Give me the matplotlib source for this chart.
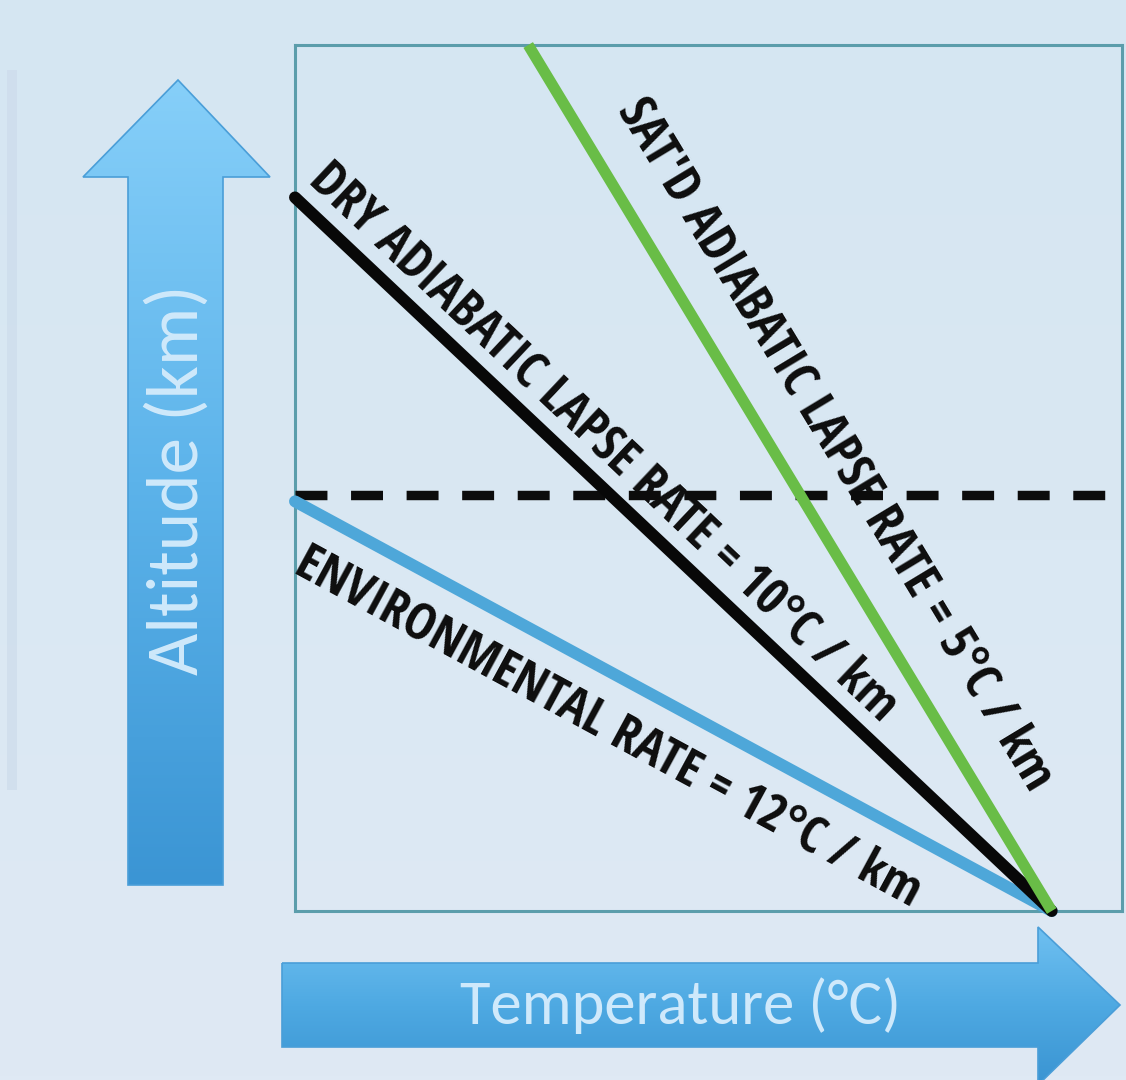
import numpy as np
import matplotlib
matplotlib.use("Agg")
import matplotlib.pyplot as plt
from matplotlib.patches import Polygon, Rectangle
from matplotlib.colors import LinearSegmentedColormap

plt.rcParams["lines.scale_dashes"] = False

# ---- data (schematic units: temperature 0-100 across, altitude 0-100 up) ----
surface_temp = 91.5          # where all three profiles meet at ground level
x_limits = [0, 100]
y_limits = [0, 100]

env_temp = [0.0, surface_temp]
env_alt = [47.3, 0.0]

dry_temp = [0.0, surface_temp]
dry_alt = [82.4, 0.0]

sat_temp = [28.2, surface_temp]
sat_alt = [100.0, 0.0]

level_alt = 48.0             # dashed reference level

labels = {
    "dry": "DRY ADIABATIC LAPSE RATE = 10°C / km",
    "sat": "SAT'D ADIABATIC LAPSE RATE = 5°C / km",
    "env": "ENVIRONMENTAL RATE = 12°C / km",
}
x_title = "Temperature (°C)"
y_title = "Altitude (km)"

W, H = 1126, 1080
fig = plt.figure(figsize=(W / 100, H / 100), dpi=100)
renderer = fig.canvas.get_renderer()

# ---- background layer in pixel units ----
bg = fig.add_axes([0, 0, 1, 1])
bg.set_xlim(0, W)
bg.set_ylim(H, 0)
bg.axis("off")
bg_cmap = LinearSegmentedColormap.from_list("bg", ["#d5e6f2", "#dae8f3", "#dfe9f4"])
bg.imshow(np.linspace(0, 1, 256)[:, None], cmap=bg_cmap, aspect="auto",
          extent=[0, W, H, 0], zorder=0)
bg.add_patch(Rectangle((7, 70), 10, 720, facecolor="#cddceb", edgecolor="none",
                       alpha=0.7, zorder=1))


def gradient_polygon(ax, verts, colors, edge="#4a9ed8"):
    poly = Polygon(verts, closed=True, facecolor="none", edgecolor=edge,
                   linewidth=1.2, zorder=3)
    ax.add_patch(poly)
    xs = [v[0] for v in verts]
    ys = [v[1] for v in verts]
    cmap = LinearSegmentedColormap.from_list("g", colors)
    grad = np.linspace(0, 1, 256)[:, None]
    im = ax.imshow(grad, cmap=cmap, aspect="auto",
                   extent=[min(xs), max(xs), max(ys), min(ys)], zorder=2)
    im.set_clip_path(poly)
    return poly


# up arrow (altitude)
up_arrow = [(128, 885), (128, 177), (83, 177), (178, 80), (270, 177),
            (223, 177), (223, 885)]
gradient_polygon(bg, up_arrow, ["#86cff9", "#5cb3ea", "#3b95d4"])

# right arrow (temperature)
right_arrow = [(282, 963), (1038, 963), (1038, 927), (1120, 1005),
               (1038, 1085), (1038, 1047), (282, 1047)]
gradient_polygon(bg, right_arrow, ["#6fc0f1", "#4ea9e2", "#3a94d2"])

bg.set_xlim(0, W)
bg.set_ylim(H, 0)


def fit_size(text, target_px, **kw):
    t = fig.text(0, 0, text, fontsize=10, **kw)
    w = t.get_window_extent(renderer).width
    t.remove()
    return 10 * target_px / w


arrow_font = dict(family=["Carlito", "Lato", "DejaVu Sans"], fontweight="normal")
fs_y = fit_size(y_title, 392, **arrow_font)
bg.text(177, 480, y_title, rotation=90, ha="center", va="center",
        color="#cfe9fb", fontsize=fs_y, zorder=5, **arrow_font)
fs_x = fit_size(x_title, 442, **arrow_font)
bg.text(680, 1006, x_title, ha="center", va="center",
        color="#cfe9fb", fontsize=fs_x, zorder=5, **arrow_font)

# ---- diagram axes ----
ax = fig.add_axes([295 / W, 1 - 911 / H, (1122 - 295) / W, (911 - 45) / H])
ax.set_xlim(*x_limits)
ax.set_ylim(*y_limits)
ax.set_facecolor("none")
ax.set_xticks([])
ax.set_yticks([])
for sp in ax.spines.values():
    sp.set_color("#5b9dab")
    sp.set_linewidth(2.2)

ax.plot([x_limits[0], x_limits[1]], [level_alt, level_alt], color="#0c0c0c",
        linewidth=6.8, dashes=(23, 17), zorder=3, clip_on=False)
ax.plot(env_temp, env_alt, color="#4ea7d9", linewidth=8.6,
        solid_capstyle="round", zorder=4, clip_on=False)
ax.plot(dry_temp, dry_alt, color="#080808", linewidth=8.6,
        solid_capstyle="round", zorder=5, clip_on=False)
ax.plot(sat_temp, sat_alt, color="#69bd47", linewidth=8.0,
        solid_capstyle="butt", zorder=6, clip_on=False)

label_font = dict(family=["Open Sans Condensed", "Carlito", "DejaVu Sans"],
                  fontweight="bold")
fs_lab = fit_size(labels["dry"], 785, **label_font)


def line_label(xs, ys, text, frac, offset_px):
    p = ax.transData.transform(np.column_stack([xs, ys]))
    d = p[1] - p[0]
    ang = np.degrees(np.arctan2(d[1], d[0]))
    u = d / np.hypot(*d)
    n = np.array([-u[1], u[0]])
    xm = xs[0] + frac * (xs[1] - xs[0])
    ym = ys[0] + frac * (ys[1] - ys[0])
    ax.annotate(text, (xm, ym), xytext=(n[0] * offset_px, n[1] * offset_px),
                textcoords="offset pixels", rotation=ang,
                rotation_mode="anchor", ha="center", va="center",
                color="#0d0d0d", fontsize=fs_lab, zorder=7,
                annotation_clip=False, **label_font)


line_label(dry_temp, dry_alt, labels["dry"], 0.377, 33)
line_label(sat_temp, sat_alt, labels["sat"], 0.495, 56)
line_label(env_temp, env_alt, labels["env"], 0.445, -50)

fig.savefig("out.png", dpi=100)
